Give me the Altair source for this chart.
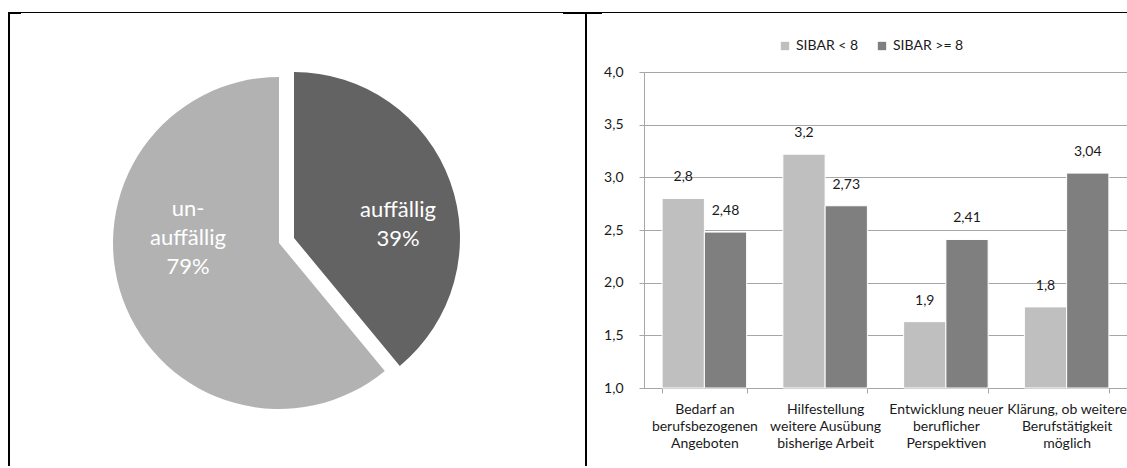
import altair as alt
import pandas as pd

# ---------------- data ----------------
pie_categories = ["auffällig", "unauffällig"]
pie_values = [39, 61]
pie_labels = ["auffällig\n39%", "un-\nauffällig\n79%"]

bar_categories = [
    "Bedarf an\nberufsbezogenen\nAngeboten",
    "Hilfestellung\nweitere Ausübung\nbisherige Arbeit",
    "Entwicklung neuer\nberuflicher\nPerspektiven",
    "Klärung, ob weitere\nBerufstätigkeit\nmöglich",
]
series_names = ["SIBAR < 8", "SIBAR >= 8"]
sibar_lt8 = [2.80, 3.22, 1.63, 1.77]
sibar_ge8 = [2.48, 2.73, 2.41, 3.04]
label_lt8 = ["2,8", "3,2", "1,9", "1,8"]
label_ge8 = ["2,48", "2,73", "2,41", "3,04"]
y_ticks = [1.0, 1.5, 2.0, 2.5, 3.0, 3.5, 4.0]

# ---------------- layout (pixels) ----------------
OX, OY = 644, 72          # plot origin
PW, PH = 483, 316         # plot size
FONT = "Lato"
FS = 14

def px(x):
    return x - OX

def py(y):
    return y - OY

pie_df = pd.DataFrame({
    "cat": pie_categories,
    "value": pie_values,
    "label": pie_labels,
    "order": list(range(len(pie_categories))),
})

bar_df = pd.DataFrame({
    "category": bar_categories * 2,
    "series": [series_names[0]] * 4 + [series_names[1]] * 4,
    "value": sibar_lt8 + sibar_ge8,
    "label": label_lt8 + label_ge8,
})

# ---------------- borders ----------------
def rule(x1, y1, x2, y2, w):
    return alt.Chart().mark_rule(color="black", strokeWidth=w).encode(
        x=alt.value(px(x1)), x2=alt.value(px(x2)),
        y=alt.value(py(y1)), y2=alt.value(py(y2)),
    )

borders = [
    rule(8, 12.5, 1127, 12.5, 1),
    rule(8, 13, 21, 13, 2),
    rule(563, 13, 602, 13, 2),
    rule(9, 12, 9, 468, 2),
    rule(586, 12, 586, 468, 2),
]

# ---------------- pie ----------------
pie_base = alt.Chart(pie_df).transform_window(
    cum="sum(value)", sort=[alt.SortField("order")]
).transform_joinaggregate(
    total="sum(value)"
).transform_calculate(
    a0="2*PI*(datum.cum - datum.value)/datum.total",
    a1="2*PI*datum.cum/datum.total",
)

pie_color = alt.Color(
    "cat:N",
    scale=alt.Scale(domain=pie_categories, range=["#636363", "#b2b2b2"]),
    legend=None,
)

CX, CY, R = 279, 243, 166
EX, EY = 15, -5

pie_light = pie_base.transform_filter(alt.datum.cat == pie_categories[1]).mark_arc(
    outerRadius=R
).encode(
    theta=alt.Theta("a0:Q", scale=None), theta2="a1:Q",
    color=pie_color,
    x=alt.value(px(CX)), y=alt.value(py(CY)),
)
pie_dark = pie_base.transform_filter(alt.datum.cat == pie_categories[0]).mark_arc(
    outerRadius=R
).encode(
    theta=alt.Theta("a0:Q", scale=None), theta2="a1:Q",
    color=pie_color,
    x=alt.value(px(CX + EX)), y=alt.value(py(CY + EY)),
)

pie_text_dark = pie_base.transform_filter(alt.datum.cat == pie_categories[0]).mark_text(
    lineBreak="\n", fontSize=22, font=FONT, color="white",
    align="center", baseline="middle", lineHeight=29,
).encode(text="label:N", x=alt.value(px(398)), y=alt.value(py(209.5)))

pie_text_light = pie_base.transform_filter(alt.datum.cat == pie_categories[1]).mark_text(
    lineBreak="\n", fontSize=22, font=FONT, color="white",
    align="center", baseline="middle", lineHeight=29,
).encode(text="label:N", x=alt.value(px(188)), y=alt.value(py(209)))

# ---------------- bars ----------------
GRAY = "#a6a6a6"
x_enc = alt.X(
    "category:N", sort=bar_categories,
    scale=alt.Scale(paddingInner=0.3, paddingOuter=0.15),
    axis=alt.Axis(
        title=None, labelAngle=0, labelExpr="split(datum.label, '\\n')",
        tickBand="extent", grid=False, domainColor=GRAY, tickColor=GRAY,
        tickSize=5, labelPadding=9, labelFontSize=FS, labelLineHeight=17,
        labelColor="#1a1a1a", labelBaseline="top", labelFont=FONT, labelLimit=0,
    ),
)
xoff_enc = alt.XOffset("series:N", sort=series_names,
                       scale=alt.Scale(paddingInner=0, paddingOuter=0))
y_enc = alt.Y(
    "value:Q",
    scale=alt.Scale(domain=[1, 4], zero=False, nice=False),
    axis=alt.Axis(
        title=None, values=y_ticks,
        labelExpr="replace(format(datum.value, '.1f'), '.', ',')",
        grid=True, gridColor=GRAY, gridWidth=1, domainColor=GRAY, tickColor=GRAY,
        tickSize=5, labelPadding=16, labelFontSize=FS, labelColor="#1a1a1a",
        labelFont=FONT,
    ),
)

bars = alt.Chart(bar_df).mark_bar(stroke="white", strokeWidth=1).encode(
    x=x_enc, xOffset=xoff_enc, y=y_enc, y2=alt.datum(1),
    color=alt.Color(
        "series:N",
        scale=alt.Scale(domain=series_names, range=["#bfbfbf", "#7f7f7f"]),
        legend=alt.Legend(
            title=None, orient="none", direction="horizontal",
            legendX=134, legendY=-33, symbolType="square", symbolSize=70,
            symbolStrokeWidth=0, labelFontSize=FS, labelFont=FONT,
            labelColor="#1a1a1a", columnPadding=16, symbolOffset=0,
        ),
    ),
)

bar_text = alt.Chart(bar_df).mark_text(
    dy=-21, fontSize=FS, font=FONT, color="#1a1a1a", baseline="middle"
).encode(x=x_enc, xOffset=xoff_enc, y=y_enc, text="label:N")

chart = alt.layer(
    *borders, pie_light, pie_dark, pie_text_light, pie_text_dark, bars, bar_text
).resolve_scale(color="independent").properties(
    width=PW, height=PH,
    autosize=alt.AutoSizeParams(type="none"),
    padding={"left": OX, "top": OY, "right": 0, "bottom": 466 - OY - PH},
    background="white",
).configure_view(stroke=None).configure(font=FONT)

chart.save("out.html", embed_options={"renderer": "svg", "actions": False})
